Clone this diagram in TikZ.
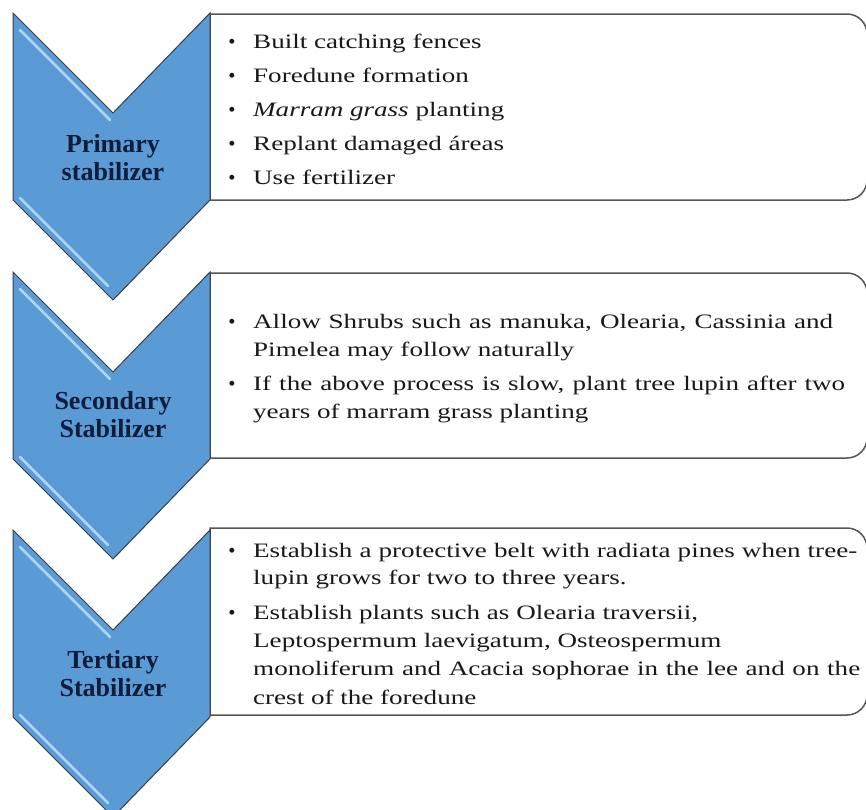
\documentclass[tikz,border=0pt]{standalone}
\usepackage{fontspec}
\setmainfont{Liberation Serif}
\newfontfamily\bodyfont[FakeStretch=1.32]{Liberation Serif}
\definecolor{chevblue}{RGB}{91,155,213}
\definecolor{chevedge}{RGB}{55,60,70}
\definecolor{bevelblue}{RGB}{172,214,246}
\definecolor{boxedge}{RGB}{85,85,85}
\definecolor{bodyc}{RGB}{25,25,25}
\definecolor{labc}{RGB}{16,28,58}
\newcommand\twolab[2]{\vtop{\baselineskip=28pt\hbox to 0pt{\hss#1\hss}\hbox to 0pt{\hss#2\hss}}}
\begin{document}
\begin{tikzpicture}[x=1pt,y=-1pt,
  chev/.style={fill=chevblue, draw=chevedge, line width=1pt, line join=miter},
  bevel/.style={draw=bevelblue, line width=2.8pt, line cap=round},
  infobox/.style={draw=boxedge, line width=1.5pt, fill=white},
  bodytxt/.style={anchor=base west, inner sep=0pt, text=bodyc, font=\bodyfont\fontsize{20.5}{28}\selectfont},
  bul/.style={anchor=base, inner sep=0pt, text=bodyc, font=\fontsize{20.5}{28}\selectfont},
  lab/.style={anchor=base, inner sep=0pt, text=labc, font=\bfseries\fontsize{26}{28}\selectfont}]
\clip (0,0) rectangle (866,809);
\fill[white] (0,0) rectangle (866,809);

% info boxes
\foreach \t/\b in {14/200, 273/458, 528/715}{
  \draw[infobox] (210,\b) -- (210,\t) -- (847,\t) arc[start angle=-90, end angle=0, radius=20]
     -- (867,\b-20) arc[start angle=0, end angle=90, radius=20] -- cycle;
}

% chevrons
\foreach \T in {13, 272, 530}{
  \draw[chev] (13,\T) -- (113,\T+100) -- (210,\T) -- (210,\T+187) -- (113,\T+287) -- (13,\T+187) -- cycle;
  \draw[bevel] (20,\T+17) -- (110,\T+107);
  \draw[bevel] (20,\T+185) -- (108,\T+273);
}

% chevron labels
\node[lab] (lab1) at (113,152) {\twolab{Primary}{stabilizer}};
\node[lab] (lab2) at (113,409) {\twolab{Secondary}{Stabilizer}};
\node[lab] (lab3) at (113,668) {\twolab{Tertiary}{Stabilizer}};

% box 1
\foreach \y in {48,82,116,150,184}{ \node[bul] at (232,\y) {\textbullet}; }
\node[bodytxt] (p1) at (253,48) {Built catching fences};
\node[bodytxt] (p2) at (253,82) {Foredune formation};
\node[bodytxt] (p3) at (253,116) {\textit{Marram grass} planting};
\node[bodytxt] (p4) at (253,150) {Replant damaged áreas};
\node[bodytxt] (p5) at (253,184) {Use fertilizer};

% box 2
\foreach \y in {328,390}{ \node[bul] at (232,\y) {\textbullet}; }
\node[bodytxt] (s1) at (253,328) {\vtop{\baselineskip=28pt
  \hbox{\makebox[580pt][s]{Allow Shrubs such as manuka, Olearia, Cassinia and}}
  \hbox{Pimelea may follow naturally}}};
\node[bodytxt] (s2) at (253,390) {\vtop{\baselineskip=28pt
  \hbox{\makebox[592pt][s]{If the above process is slow, plant tree lupin after two}}
  \hbox{years of marram grass planting}}};

% box 3
\foreach \y in {557,619}{ \node[bul] at (232,\y) {\textbullet}; }
\node[bodytxt] (t1) at (253,557) {\vtop{\baselineskip=27pt
  \hbox{\makebox[604pt][s]{Establish a protective belt with radiata pines when tree-}}
  \hbox{lupin grows for two to three years.}}};
\node[bodytxt] (t2) at (253,619) {\vtop{\baselineskip=28.4pt
  \hbox{Establish plants such as Olearia traversii,}
  \hbox{Leptospermum laevigatum, Osteospermum}
  \hbox{\makebox[607pt][s]{monoliferum and Acacia sophorae in the lee and on the}}
  \hbox{crest of the foredune}}};
\end{tikzpicture}
\end{document}
